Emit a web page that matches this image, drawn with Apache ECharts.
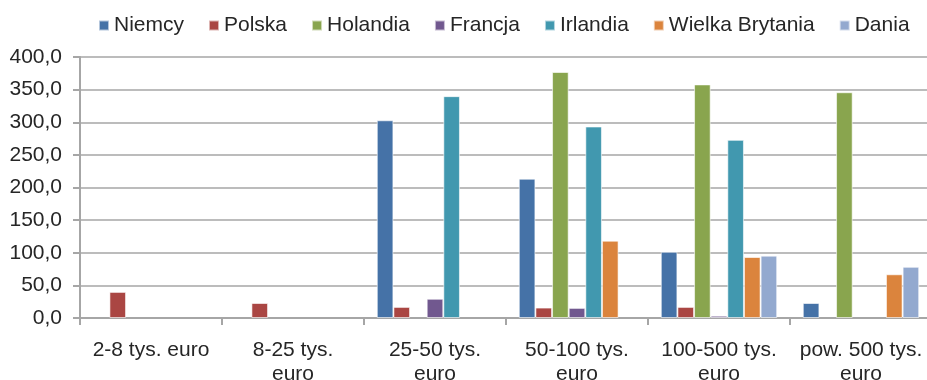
<!DOCTYPE html>
<html>
<head>
<meta charset="utf-8">
<script src="https://cdn.jsdelivr.net/npm/echarts@6/dist/echarts.min.js"></script>
<style>
  html, body { margin: 0; padding: 0; background: #fff; }
  #chart { width: 927px; height: 380px; }
</style>
</head>
<body>
<div id="chart"></div>
<script>
// categories (x axis)
const categories = ['2-8 tys. euro', '8-25 tys.\neuro', '25-50 tys.\neuro', '50-100 tys.\neuro', '100-500 tys.\neuro', 'pow. 500 tys.\neuro'];

// values per country, null = no bar
const niemcy = [null, null, 303, 213.5, 101.5, 23];
const polska = [40, 23, 17, 16, 17, null];
const holandia = [null, null, null, 377, 358, 346];
const francja = [null, null, 29.5, 15.5, 3.5, null];
const irlandia = [null, null, 340, 293.5, 273, null];
const wielkaBrytania = [null, null, null, 118.5, 93.5, 67];
const dania = [null, null, null, null, 95.5, 78.5];

const seriesNames = ['Niemcy', 'Polska', 'Holandia', 'Francja', 'Irlandia', 'Wielka Brytania', 'Dania'];
const seriesValues = [niemcy, polska, holandia, francja, irlandia, wielkaBrytania, dania];
const colors = ['#4572A7', '#AA4643', '#89A54E', '#71588F', '#4198AF', '#DB843D', '#93A9CF'];

const chart = echarts.init(document.getElementById('chart'));

const series = seriesNames.map((name, i) => ({
  name: name,
  type: 'bar',
  data: seriesValues[i],
  barGap: '0%',
  barCategoryGap: '18%',
  itemStyle: {
    borderColor: 'rgba(255,255,255,0.6)',
    borderWidth: 1
  }
}));

const textColor = '#262626';
const fontFamily = '"Liberation Sans", Arial, sans-serif';

const option = {
  animation: false,
  color: colors,
  textStyle: { fontFamily: fontFamily },
  legend: {
    left: 93,
    top: 10,
    itemWidth: 10,
    itemHeight: 10,
    itemGap: 24,
    icon: 'rect',
    textStyle: { color: textColor, fontSize: 21, fontFamily: fontFamily },
    data: seriesNames
  },
  grid: {
    left: 80,
    top: 57,
    width: 852,
    height: 261,
    outerBoundsMode: 'none',
    containLabel: false
  },
  xAxis: {
    type: 'category',
    data: categories,
    axisLine: { lineStyle: { color: '#a6a6a6', width: 2 } },
    axisTick: { show: true, length: 7, lineStyle: { color: '#a6a6a6', width: 2 } },
    axisLabel: {
      color: textColor,
      fontSize: 21,
      lineHeight: 24,
      margin: 20,
      interval: 0
    }
  },
  yAxis: {
    type: 'value',
    min: 0,
    max: 400,
    interval: 50,
    axisLine: { show: true, lineStyle: { color: '#a6a6a6', width: 2 } },
    axisTick: { show: true, length: 7, lineStyle: { color: '#a6a6a6', width: 2 } },
    splitLine: { lineStyle: { color: '#a6a6a6', width: 1.5 } },
    axisLabel: {
      color: textColor,
      fontSize: 21,
      margin: 18,
      formatter: v => v.toFixed(1).replace('.', ',')
    }
  },
  series: series
};

chart.setOption(option);
</script>
</body>
</html>
